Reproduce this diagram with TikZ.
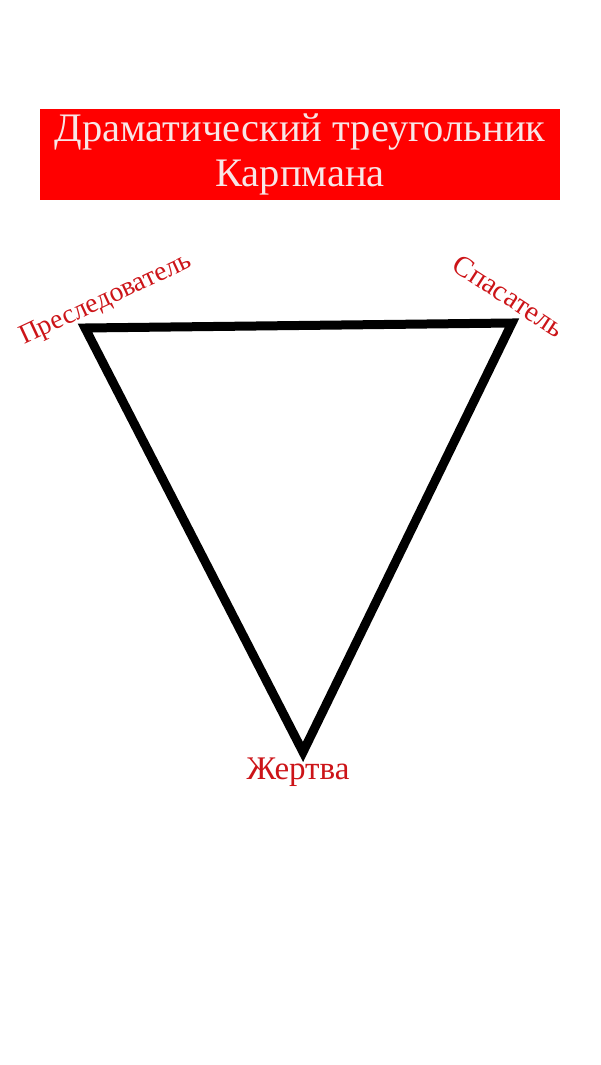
\documentclass[tikz,border=0pt]{standalone}
\usepackage{fontspec}
\setmainfont{Liberation Serif}
\usetikzlibrary{positioning}

\definecolor{titlered}{HTML}{FF0000}
\definecolor{rolered}{HTML}{CC1418}
\definecolor{titletext}{HTML}{F8E6E6}

\begin{document}
\begin{tikzpicture}[x=1pt,y=-1pt,
	role/.style={text=rolered,inner sep=0pt},
	titlebox/.style={fill=titlered,text=titletext,minimum width=520pt,minimum height=91pt,
		align=center,font=\fontsize{40.5}{45}\selectfont,inner sep=0pt}]
	\useasboundingbox (0,0) rectangle (600,1065);
	\node[titlebox] (title) at (300,154.5) {Драматический треугольник\\Карпмана};
	\coordinate (P) at (85,328);
	\coordinate (S) at (512,323);
	\coordinate (V) at (303,752);
	\draw[line width=9pt,line join=miter] (P) -- (S) -- (V) -- cycle;
	\node[role,rotate=25,font=\fontsize{27.5}{30}\selectfont] (pres) at (106,300) {Преследователь};
	\node[role,rotate=-33,font=\fontsize{29}{31}\selectfont] (spas) at (509,296) {Спасатель};
	\node[role,font=\fontsize{33}{35}\selectfont] (zhert) at (298,772) {Жертва};
\end{tikzpicture}
\end{document}
